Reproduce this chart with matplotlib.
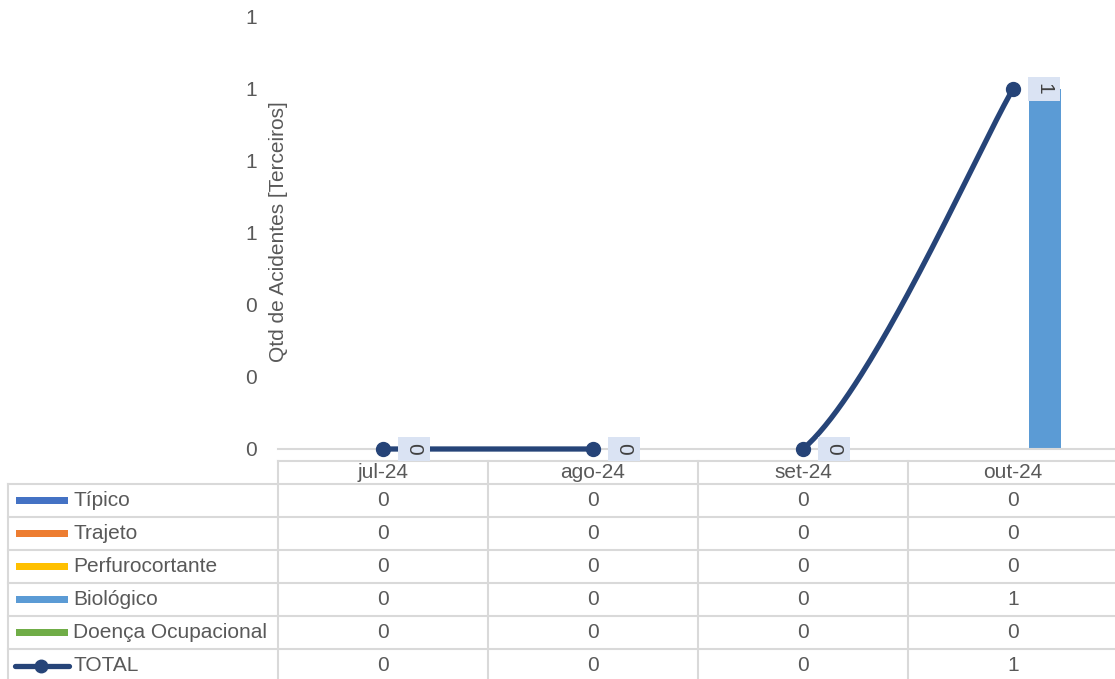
import matplotlib

matplotlib.use("Agg")
import matplotlib.pyplot as plt
import numpy as np
from matplotlib.ticker import FormatStrFormatter, MultipleLocator

plt.rcParams["font.family"] = ["Liberation Sans", "DejaVu Sans"]

MONTHS = ["jul-24", "ago-24", "set-24", "out-24"]
SERIES = ["Típico", "Trajeto", "Perfurocortante", "Biológico", "Doença Ocupacional"]
COLORS = ["#4472c4", "#ed7d31", "#ffc000", "#5b9bd5", "#70ad47"]
tipico = [0, 0, 0, 0]
trajeto = [0, 0, 0, 0]
perfuro = [0, 0, 0, 0]
biologico = [0, 0, 0, 1]
doenca = [0, 0, 0, 0]
total = [0, 0, 0, 1]
VALUES = [tipico, trajeto, perfuro, biologico, doenca]

LINE_C = "#264478"
GRID_C = "#d9d9d9"
TXT_C = "#595959"
FS = 15
W, H = 1115, 679

fig = plt.figure(figsize=(W / 100, H / 100), dpi=100)


def fx(px):
    return px / W


def fy(py):
    return 1 - py / H


# main plot area
ax = fig.add_axes([fx(278), fy(449), fx(1118) - fx(278), fy(17) - fy(449)])
x = np.arange(len(MONTHS))
bw = 0.153
for i, (name, vals, c) in enumerate(zip(SERIES, VALUES, COLORS)):
    ax.bar(x + (i - 2) * bw, vals, bw, color=c, label=name, zorder=2)

# smoothed TOTAL line (Catmull-Rom style bezier like Excel), parts below 0 hidden
pts = np.column_stack([x, total]).astype(float)
xs, ys = [], []
for k in range(len(pts) - 1):
    p0 = pts[max(k - 1, 0)]
    p1, p2 = pts[k], pts[k + 1]
    p3 = pts[min(k + 2, len(pts) - 1)]
    c1 = p1 + (p2 - p0) / 6
    c2 = p2 - (p3 - p1) / 6
    t = np.linspace(0, 1, 80)[:, None]
    b = (1 - t) ** 3 * p1 + 3 * (1 - t) ** 2 * t * c1 + 3 * (1 - t) * t ** 2 * c2 + t ** 3 * p2
    xs.append(b[:, 0]); ys.append(b[:, 1])
    xs.append([np.nan]); ys.append([np.nan])
xs = np.concatenate(xs); ys = np.concatenate(ys)
ys = np.where(ys < -1e-6, np.nan, ys)
ax.plot(xs, ys, color=LINE_C, lw=3.8, solid_capstyle="round", zorder=3, clip_on=False)
ax.plot(x, total, "o", color=LINE_C, ms=10, zorder=4, clip_on=False)
for xi, v in zip(x, total):
    ax.annotate(f"{v}", (xi, v), xytext=(31, 0), textcoords="offset pixels",
                rotation=270, ha="center", va="center", fontsize=FS, color="#404040",
                bbox=dict(boxstyle="square,pad=0.3", fc="#dae3f3", ec="none"), zorder=5)

ax.set_xlim(-0.5, 3.5)
ax.set_ylim(0, 1.2)
ax.yaxis.set_major_locator(MultipleLocator(0.2))
ax.yaxis.set_major_formatter(FormatStrFormatter("%.0f"))
ax.tick_params(axis="y", length=0, pad=15, labelsize=FS, labelcolor=TXT_C)
ax.set_xticks([])
for s in ["top", "right", "left"]:
    ax.spines[s].set_visible(False)
ax.spines["bottom"].set_color(GRID_C)
ax.spines["bottom"].set_linewidth(1.5)
fig.text(fx(278), fy(232), "Qtd de Acidentes [Terceiros]", rotation=90, ha="center",
         va="center", fontsize=FS, color=TXT_C)

# data table below the plot
tb = fig.add_axes([0, 0, 1, 1], zorder=-1)
tb.set_xlim(0, W); tb.set_ylim(H, 0); tb.axis("off")
col_edges = [278, 488, 698, 908, 1118]
row_edges = [484, 517, 550, 583, 616, 649, 682]
lw = 1.5
tb.plot([278, 1118], [461, 461], color=GRID_C, lw=lw)
for cx in col_edges:
    tb.plot([cx, cx], [461, 682], color=GRID_C, lw=lw)
tb.plot([8, 8], [484, 682], color=GRID_C, lw=lw)
for ry in row_edges:
    tb.plot([8, 1118], [ry, ry], color=GRID_C, lw=lw)
for j, m in enumerate(MONTHS):
    tb.text((col_edges[j] + col_edges[j + 1]) / 2, 473, m, ha="center", va="center",
            fontsize=FS, color=TXT_C)

row_names = SERIES + ["TOTAL"]
row_vals = VALUES + [total]
for r, (name, vals) in enumerate(zip(row_names, row_vals)):
    cy = (row_edges[r] + row_edges[r + 1]) / 2
    if name == "TOTAL":
        tb.plot([15, 69], [cy, cy], color=LINE_C, lw=3.8, solid_capstyle="round")
        tb.plot([41], [cy], "o", color=LINE_C, ms=9)
    else:
        tb.add_patch(plt.Rectangle((16, cy - 3.5), 52, 7, color=COLORS[r], lw=0))
    tb.text(73, cy, name, ha="left", va="center", fontsize=FS, color=TXT_C)
    for j, v in enumerate(vals):
        tb.text((col_edges[j] + col_edges[j + 1]) / 2, cy, f"{v}", ha="center",
                va="center", fontsize=FS, color=TXT_C)

fig.savefig("out.png", dpi=100)
